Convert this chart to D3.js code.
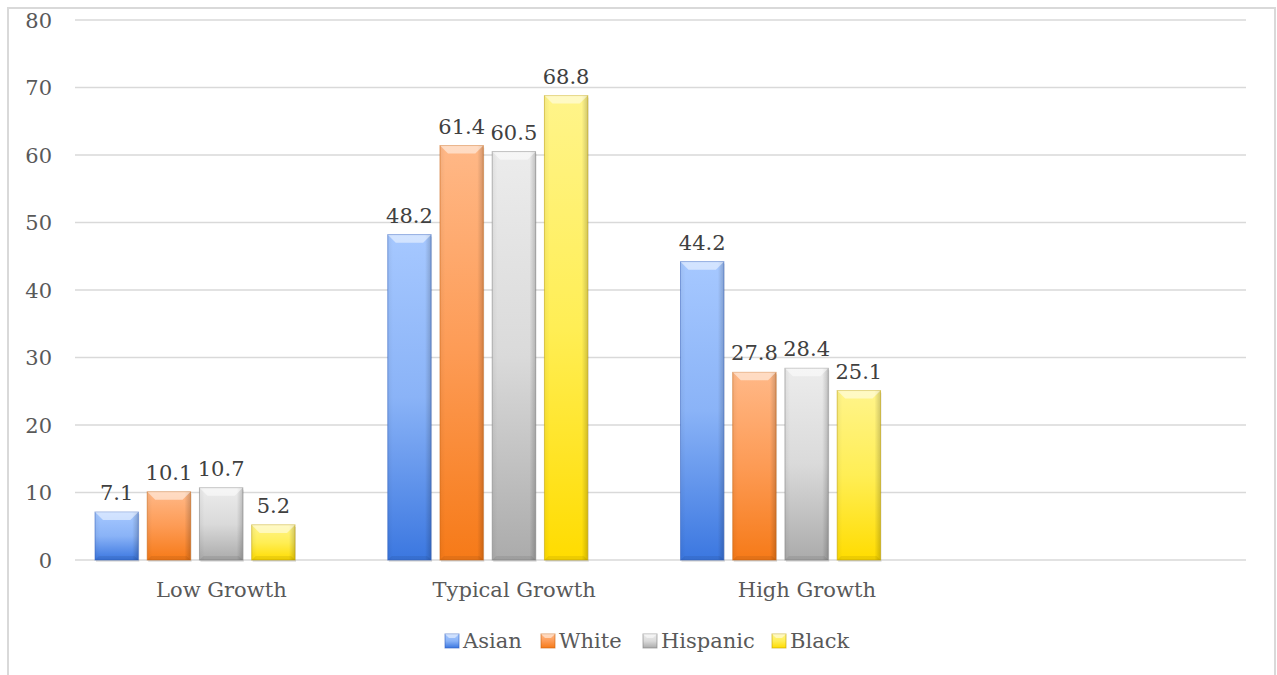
<!DOCTYPE html>
<html>
<head>
<meta charset="utf-8">
<script src="https://cdn.jsdelivr.net/npm/d3@7"></script>
<style>
  body { margin: 0; background: #fff; }
  text { font-family: "DejaVu Serif", serif; }
  .tick text { fill: #595959; font-size: 21px; }
  .val { fill: #404040; font-size: 21px; }
  .leg { fill: #595959; font-size: 21px; }
</style>
</head>
<body>
<div id="barchart"></div>
<script>
// data
var categories = ["Low Growth", "Typical Growth", "High Growth", ""];
var seriesNames = ["Asian", "White", "Hispanic", "Black"];
var asian = [7.1, 48.2, 44.2];
var white = [10.1, 61.4, 27.8];
var hispanic = [10.7, 60.5, 28.4];
var black = [5.2, 68.8, 25.1];
var yTicks = [0, 10, 20, 30, 40, 50, 60, 70, 80];

var seriesValues = [asian, white, hispanic, black];
var colors = {
  Asian:    ["#a6c8ff", "#8ab3f7", "#3b77e0"],
  White:    ["#ffb887", "#fd9b55", "#f67a18"],
  Hispanic: ["#ececec", "#dadada", "#ababab"],
  Black:    ["#fff48a", "#ffee55", "#ffdc00"]
};
var edge = { Asian: "#2f5fbf", White: "#c9620f", Hispanic: "#808080", Black: "#bfa000" };

var W = 1277, H = 675;
var margin = {top: 20, right: 31, bottom: 115, left: 75},
    width = W - margin.left - margin.right,
    height = H - margin.top - margin.bottom;

var root = d3.select("#barchart")
  .append("svg")
    .attr("width", W)
    .attr("height", H);

// outer frame
root.append("rect")
  .attr("x", 8).attr("y", 8)
  .attr("width", 1267).attr("height", 700)
  .attr("fill", "none")
  .attr("stroke", "#d9d9d9")
  .attr("stroke-width", 2);

var defs = root.append("defs");
seriesNames.forEach(function(s) {
  var g = defs.append("linearGradient")
    .attr("id", "grad-" + s)
    .attr("x1", 0).attr("y1", 0).attr("x2", 0).attr("y2", 1);
  g.append("stop").attr("offset", "0%").attr("stop-color", colors[s][0]);
  g.append("stop").attr("offset", "50%").attr("stop-color", colors[s][1]);
  g.append("stop").attr("offset", "100%").attr("stop-color", colors[s][2]);
});
// darker sides
var side = defs.append("linearGradient")
  .attr("id", "sides")
  .attr("x1", 0).attr("y1", 0).attr("x2", 1).attr("y2", 0);
side.append("stop").attr("offset", "0%").attr("stop-color", "#000").attr("stop-opacity", 0.05);
side.append("stop").attr("offset", "12%").attr("stop-color", "#000").attr("stop-opacity", 0);
side.append("stop").attr("offset", "86%").attr("stop-color", "#000").attr("stop-opacity", 0);
side.append("stop").attr("offset", "100%").attr("stop-color", "#000").attr("stop-opacity", 0.18);

var svg = root.append("g")
  .attr("transform", "translate(" + margin.left + "," + margin.top + ")");

var x0 = d3.scaleBand()
  .domain(categories)
  .range([0, width]);

// five slots per group, the last one is empty in the original
var x1 = d3.scaleBand()
  .domain(seriesNames.concat(["_blank"]))
  .range([20, x0.bandwidth() - 20.5])
  .paddingInner(0.17);

var y = d3.scaleLinear()
  .domain([0, 80])
  .range([height, 0]);

// gridlines
svg.append("g")
  .selectAll("line")
  .data(yTicks)
  .enter()
  .append("line")
    .attr("x1", 0)
    .attr("x2", width)
    .attr("y1", function(d) { return y(d); })
    .attr("y2", function(d) { return y(d); })
    .attr("stroke", "#d9d9d9")
    .attr("stroke-width", 1.5);

var yAxis = svg.append("g")
  .call(d3.axisLeft(y).tickValues(yTicks).tickSize(0).tickPadding(23));
yAxis.select(".domain").remove();
yAxis.selectAll("text").attr("dy", "0.35em");

var xAxis = svg.append("g")
  .attr("transform", "translate(0," + height + ")")
  .call(d3.axisBottom(x0).tickSize(0).tickPadding(22));
xAxis.select(".domain").remove();
xAxis.selectAll("text").attr("dy", "0.71em");

// bars
var bars = [];
seriesNames.forEach(function(s, i) {
  seriesValues[i].forEach(function(v, j) {
    bars.push({series: s, cat: categories[j], value: v});
  });
});

var bar = svg.selectAll(".bar")
  .data(bars)
  .enter()
  .append("g")
    .attr("class", "bar")
    .attr("transform", function(d) {
      return "translate(" + (x0(d.cat) + x1(d.series)) + "," + y(d.value) + ")";
    });

var bw = x1.bandwidth();

// soft shadow
bar.append("rect")
  .attr("x", 1).attr("y", 2)
  .attr("width", bw).attr("height", function(d) { return height - y(d.value); })
  .attr("fill", "rgba(0,0,0,0.10)");

bar.append("rect")
  .attr("width", bw)
  .attr("height", function(d) { return height - y(d.value); })
  .attr("fill", function(d) { return "url(#grad-" + d.series + ")"; });

bar.append("rect")
  .attr("width", bw)
  .attr("height", function(d) { return height - y(d.value); })
  .attr("fill", "url(#sides)")
  .attr("stroke", function(d) { return edge[d.series]; })
  .attr("stroke-opacity", 0.55)
  .attr("stroke-width", 1);

// bevel highlight on top
bar.append("path")
  .attr("d", function(d) {
    var h = Math.min(8, (height - y(d.value)) / 2);
    return "M0,0L" + bw + ",0L" + (bw - h) + "," + h + "L" + h + "," + h + "Z";
  })
  .attr("fill", "#ffffff")
  .attr("fill-opacity", 0.5);

// bevel shade on bottom
bar.append("path")
  .attr("d", function(d) {
    var bh = height - y(d.value), h = Math.min(4, bh / 2);
    return "M0," + bh + "L" + bw + "," + bh + "L" + (bw - h) + "," + (bh - h) + "L" + h + "," + (bh - h) + "Z";
  })
  .attr("fill", "#000000")
  .attr("fill-opacity", 0.07);

bar.append("text")
  .attr("class", "val")
  .attr("x", bw / 2)
  .attr("y", -12)
  .attr("text-anchor", "middle")
  .text(function(d) { return d.value; });

// legend
var legendX = [445, 541, 643, 772];
var legend = root.append("g")
  .selectAll("g")
  .data(seriesNames)
  .enter()
  .append("g")
    .attr("transform", function(d, i) { return "translate(" + legendX[i] + ",634)"; });

legend.append("rect")
  .attr("width", 14).attr("height", 14)
  .attr("fill", function(d) { return "url(#grad-" + d + ")"; })
  .attr("stroke", function(d) { return edge[d]; })
  .attr("stroke-opacity", 0.6);
legend.append("path")
  .attr("d", "M0,0L14,0L10,4L4,4Z")
  .attr("fill", "#fff").attr("fill-opacity", 0.5);

legend.append("text")
  .attr("class", "leg")
  .attr("x", 18)
  .attr("y", 7)
  .attr("dy", "0.35em")
  .text(function(d) { return d; });
</script>
</body>
</html>
